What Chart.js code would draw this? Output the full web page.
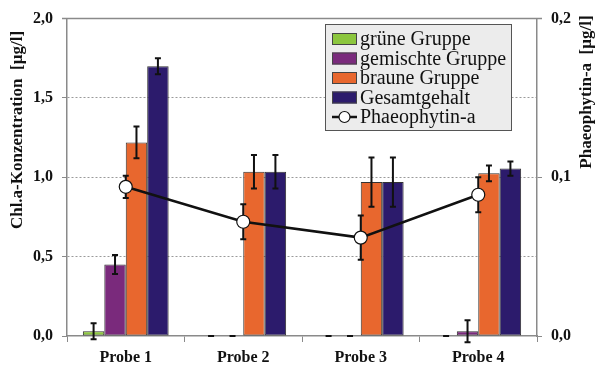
<!DOCTYPE html>
<html>
<head>
<meta charset="utf-8">
<script src="https://cdn.jsdelivr.net/npm/chart.js@4/dist/chart.umd.min.js"></script>
<style>
  html, body { margin: 0; padding: 0; background: #fff; }
  #wrap { width: 597px; height: 370px; }
</style>
</head>
<body>
<div id="wrap"><canvas id="grafico"></canvas></div>
<script>
const categories = ['Probe 1', 'Probe 2', 'Probe 3', 'Probe 4'];
const gruen = [0.03, 0, 0, 0];
const gruenErr = [0.05, 0, 0, 0];
const gemischt = [0.45, 0, 0, 0.03];
const gemischtErr = [0.06, 0, 0, 0.07];
const braun = [1.22, 1.035, 0.97, 1.025];
const braunErr = [0.10, 0.105, 0.155, 0.05];
const gesamt = [1.70, 1.035, 0.97, 1.055];
const gesamtErr = [0.05, 0.105, 0.155, 0.045];
const phaeo = [0.094, 0.072, 0.062, 0.089];
const phaeoErr = [0.007, 0.011, 0.014, 0.011];

const serif = '"Liberation Serif", "DejaVu Serif", serif';
const komma = v => v.toFixed(1).replace('.', ',');

// Fehlerbalken
const errorBars = {
  id: 'errorBars',
  beforeDatasetDraw(chart, args) {
    if (chart.data.datasets[args.index].type === 'line') drawErr(chart, args.index);
  },
  afterDatasetDraw(chart, args) {
    if (chart.data.datasets[args.index].type !== 'line') drawErr(chart, args.index);
  }
};

function drawErr(chart, i) {
  const ds = chart.data.datasets[i];
  const meta = chart.getDatasetMeta(i);
  const scale = chart.scales[meta.yAxisID];
  const ctx = chart.ctx;
  ctx.save();
  ctx.strokeStyle = '#111';
  ctx.lineWidth = 2;
  meta.data.forEach((el, j) => {
    const v = ds.data[j], e = ds.errors[j];
    const yt = scale.getPixelForValue(v + e);
    const yb = scale.getPixelForValue(v - e);
    ctx.beginPath();
    ctx.moveTo(el.x, yt); ctx.lineTo(el.x, yb);
    ctx.moveTo(el.x - 3, yt); ctx.lineTo(el.x + 3, yt);
    ctx.moveTo(el.x - 3, yb); ctx.lineTo(el.x + 3, yb);
    ctx.stroke();
  });
  ctx.restore();
}

// Rahmen, Achsentitel und Legende
const extras = {
  id: 'extras',
  afterDraw(chart) {
    const ctx = chart.ctx;
    const a = chart.chartArea;
    ctx.save();
    ctx.strokeStyle = '#8a8a8a';
    ctx.lineWidth = 1.5;
    ctx.beginPath();
    ctx.moveTo(a.left - 5, a.top); ctx.lineTo(a.right + 5, a.top);
    ctx.stroke();

    ctx.fillStyle = '#111';
    ctx.font = 'bold 17px ' + serif;
    ctx.textAlign = 'center';
    ctx.textBaseline = 'middle';
    ctx.save();
    ctx.translate(18, 130);
    ctx.rotate(-Math.PI / 2);
    ctx.fillText('Chl.a-Konzentration  [µg/l]', 0, 0);
    ctx.restore();
    ctx.save();
    ctx.translate(587, 92);
    ctx.rotate(-Math.PI / 2);
    ctx.fillText('Phaeophytin-a  [µg/l]', 0, 0);
    ctx.restore();

    // Legende
    const lx = 325, ly = 24, lw = 186, lh = 106;
    ctx.fillStyle = '#ececec';
    ctx.fillRect(lx, ly, lw, lh);
    ctx.strokeStyle = '#555';
    ctx.lineWidth = 1;
    ctx.strokeRect(lx + 0.5, ly + 0.5, lw, lh);
    ctx.font = '20px ' + serif;
    ctx.textAlign = 'left';
    chart.data.datasets.forEach((ds, r) => {
      const cy = 39 + r * 19.5;
      if (ds.type === 'line') {
        ctx.strokeStyle = '#111';
        ctx.lineWidth = 2.5;
        ctx.beginPath(); ctx.moveTo(332, cy); ctx.lineTo(357, cy); ctx.stroke();
        ctx.fillStyle = '#fff';
        ctx.lineWidth = 1.2;
        ctx.beginPath(); ctx.arc(344.5, cy, 5.5, 0, Math.PI * 2); ctx.fill(); ctx.stroke();
      } else {
        ctx.fillStyle = ds.backgroundColor;
        ctx.fillRect(332, cy - 6, 25, 12);
        ctx.strokeStyle = '#444';
        ctx.lineWidth = 1;
        ctx.strokeRect(332.5, cy - 5.5, 24, 11);
      }
      ctx.fillStyle = '#111';
      ctx.fillText(ds.label, 360, cy + 1);
    });
    ctx.restore();
  }
};

const barBase = {
  type: 'bar',
  yAxisID: 'y',
  borderColor: '#333',
  borderWidth: 1,
  borderSkipped: false,
  categoryPercentage: 0.73,
  barPercentage: 1.0,
  order: 1
};

new Chart(document.getElementById('grafico').getContext('2d'), {
  data: {
    labels: categories,
    datasets: [
      { ...barBase, label: 'grüne Gruppe', data: gruen, errors: gruenErr, backgroundColor: '#8cc63e' },
      { ...barBase, label: 'gemischte Gruppe', data: gemischt, errors: gemischtErr, backgroundColor: '#7a2a7c' },
      { ...barBase, label: 'braune Gruppe', data: braun, errors: braunErr, backgroundColor: '#e8672e' },
      { ...barBase, label: 'Gesamtgehalt', data: gesamt, errors: gesamtErr, backgroundColor: '#2c1b6c' },
      {
        type: 'line',
        label: 'Phaeophytin-a',
        data: phaeo,
        errors: phaeoErr,
        yAxisID: 'y1',
        borderColor: '#111',
        borderWidth: 2.5,
        pointRadius: 6.5,
        pointBackgroundColor: '#fff',
        pointBorderColor: '#111',
        pointBorderWidth: 1.2,
        tension: 0,
        order: 0
      }
    ]
  },
  options: {
    responsive: true,
    maintainAspectRatio: false,
    animation: false,
    layout: { padding: { top: 16, left: 0, right: 0, bottom: 0 } },
    plugins: { legend: { display: false }, tooltip: { enabled: false } },
    scales: {
      x: {
        grid: { offset: true, drawOnChartArea: false, color: '#8a8a8a', tickLength: 6 },
        border: { color: '#8a8a8a', width: 1.5 },
        ticks: { color: '#111', font: { family: serif, size: 16, weight: 'bold' }, padding: 6 },
        afterFit(s) { s.height = 34; }
      },
      y: {
        position: 'left',
        min: 0, max: 2.0,
        ticks: { stepSize: 0.5, callback: komma, color: '#111', font: { family: serif, size: 16, weight: 'bold' }, padding: 9 },
        grid: {
          color: c => (c.tick.value > 0 && c.tick.value < 2) ? '#9a9a9a' : 'rgba(0,0,0,0)',
          tickColor: '#8a8a8a',
          tickLength: 5,
          borderDash: [2, 2]
        },
        border: { color: '#8a8a8a', width: 1.5, dash: [2, 2] },
        afterFit(s) { s.width = 67; }
      },
      y1: {
        position: 'right',
        min: 0, max: 0.2,
        ticks: { stepSize: 0.1, callback: komma, color: '#111', font: { family: serif, size: 16, weight: 'bold' }, padding: 9 },
        grid: { drawOnChartArea: false, color: '#8a8a8a', tickLength: 5 },
        border: { color: '#8a8a8a', width: 1.5 },
        afterFit(s) { s.width = 60; }
      }
    }
  },
  plugins: [errorBars, extras]
});
</script>
</body>
</html>
